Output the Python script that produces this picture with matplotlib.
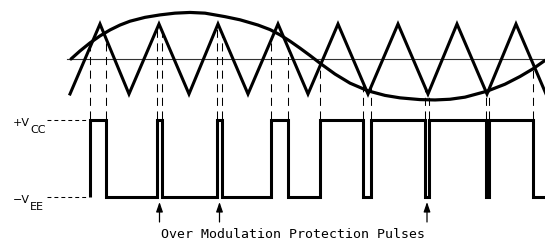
import numpy as np
import matplotlib
matplotlib.use("Agg")
import matplotlib.pyplot as plt

# triangle carrier: vertex times and normalised level
carrier_t = [70, 100, 129, 159, 189, 218, 248, 278, 308, 338, 368, 398, 428, 457, 487, 516, 546]
carrier_v = [-1, 1, -1, 1, -1, 1, -1, 1, -1, 1, -1, 1, -1, 1, -1, 1, -1]

# modulating signal (same normalised units)
mod_t = [71, 80, 90, 100, 110, 120, 130, 145, 160, 175, 190, 205, 225, 240, 258, 270, 280,
         290, 300, 310, 320, 335, 350, 368, 385, 400, 420, 435, 450, 465, 487, 505, 520, 533, 545]
mod_v = [0.00, 0.23, 0.46, 0.66, 0.83, 0.97, 1.08, 1.19, 1.26, 1.31, 1.33, 1.31, 1.21, 1.12,
         0.97, 0.84, 0.69, 0.51, 0.31, 0.10, -0.12, -0.43, -0.69, -0.91, -1.04, -1.11, -1.16,
         -1.17, -1.15, -1.09, -0.92, -0.72, -0.50, -0.28, -0.04]

# PWM output: switching instants (starts low at first edge)
pwm_edges = [90, 106, 157, 162, 217, 222, 271, 288, 320, 363, 371, 425, 429, 486, 489, 533]
pwm_end = 545
zero_start = 67

# over modulation protection pulses
protect_t = [159.5, 219.5, 427]
protect_text = "Over Modulation Protection Pulses"
vcc_label = ("+V", "CC")
vee_label = ("\u2212V", "EE")

# layout (pixel-like units of the canvas)
W, H = 545, 240
MID_Y, AMP_Y = 59, 35
HIGH_Y, LOW_Y = 120, 197


def car_y(v):
    return MID_Y - AMP_Y * np.asarray(v, dtype=float)


plt.rcParams['lines.scale_dashes'] = False
fig = plt.figure(figsize=(W / 100, H / 100), dpi=100)
ax = fig.add_axes([0, 0, 1, 1])
ax.set_xlim(0, W)
ax.set_ylim(H, 0)
ax.axis('off')

# zero line
ax.plot([zero_start, W], [MID_Y, MID_Y], color='#333333', lw=0.8)

# carrier and modulating signal
ax.plot(carrier_t, car_y(carrier_v), color='k', lw=2.2, solid_joinstyle='miter')
ax.plot(mod_t, car_y(mod_v), color='k', lw=2.3, solid_joinstyle='round', solid_capstyle='round')

# PWM waveform
xs, ys = [pwm_edges[0]], [LOW_Y]
level = LOW_Y
for e in pwm_edges:
    new = HIGH_Y if level == LOW_Y else LOW_Y
    xs += [e, e]
    ys += [level, new]
    level = new
xs.append(pwm_end)
ys.append(level)
ax.plot(xs, ys, color='k', lw=2.2, solid_joinstyle='miter', solid_capstyle='butt')

# dashed projection lines (drawn upward from the output level)
tri_at = np.interp(pwm_edges, carrier_t, carrier_v)
for t, v in zip(pwm_edges, tri_at):
    ax.plot([t, t], [HIGH_Y - 1, car_y(v)], color='k', lw=0.75,
            linestyle=(0, (5.8, 4.0)), dash_capstyle='butt')

# level labels
for (main, sub), yl in [(vcc_label, HIGH_Y), (vee_label, LOW_Y)]:
    ax.plot([47, pwm_edges[0] - 2], [yl, yl], color='k', lw=0.75,
            linestyle=(0, (2.8, 2.2)), dash_capstyle='butt')
    ax.text(30, yl + 6, main, fontsize=8, ha='right', va='baseline', family='DejaVu Sans')
    ax.text(30, yl + 13, sub, fontsize=8, ha='left', va='baseline', family='DejaVu Sans')

# protection pulse arrows
for t in protect_t:
    ax.annotate('', xy=(t, LOW_Y + 5), xytext=(t, LOW_Y + 25),
                arrowprops=dict(arrowstyle='-|>,head_length=0.58,head_width=0.2',
                                lw=0.9, color='k', shrinkA=0, shrinkB=0))
ax.text(293, 234, protect_text, fontsize=9.5, ha='center', va='center',
        family='DejaVu Sans Mono')

fig.savefig('out.png', dpi=100)
